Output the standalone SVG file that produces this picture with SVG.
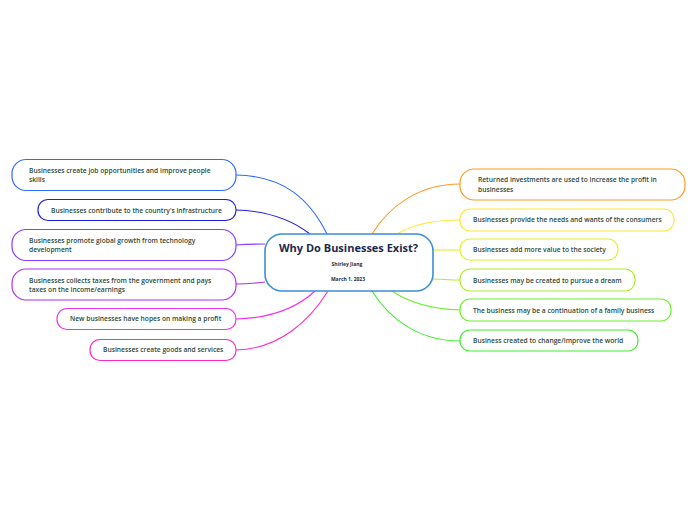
<svg xmlns="http://www.w3.org/2000/svg" width="696" height="520" viewBox="0 0 696 520">
<style>
.n{fill:#fff;stroke-width:1.2}
.t{font-family:"Open Sans","Noto Sans",sans-serif;font-weight:600;font-size:6.7px;fill:#2b4a3b}
.c{fill:none;stroke-width:1.1}
</style>
<rect width="696" height="520" fill="#fff"/>
<g id="connectors">
<path class="c" stroke="#2f6bff" d="M236,175 C285,176 310,200 327,234"/>
<path class="c" stroke="#2020e0" d="M236,210 C270,211 292,220 310,234"/>
<path class="c" stroke="#8a3cff" d="M236,245 C248,244 256,244 265,244"/>
<path class="c" stroke="#b030ee" d="M236,284 C248,284 256,283 265,282"/>
<path class="c" stroke="#ee33ee" d="M236,319 C275,318 300,305 315,291"/>
<path class="c" stroke="#ff2ac0" d="M236,350 C280,349 310,320 328,291"/>
<path class="c" stroke="#ff9a22" d="M460,184 C420,184 390,205 372,234"/>
<path class="c" stroke="#ffe633" d="M460,220 C430,220 410,226 397,234"/>
<path class="c" stroke="#e0f22a" d="M460,250 C450,250 440,250 433,250"/>
<path class="c" stroke="#aaf02a" d="M460,280 C450,280 440,279 433,279"/>
<path class="c" stroke="#6cf030" d="M460,310 C430,309 408,302 392,291"/>
<path class="c" stroke="#40ee30" d="M460,341 C420,341 390,320 372,291"/>
</g>
<g id="center">
<rect x="265" y="234" width="168" height="57" rx="17" fill="#fff" stroke="#3a8fd6" stroke-width="1.6"/>
<text x="348.5" y="252" text-anchor="middle" font-family="'Open Sans','Noto Sans',sans-serif" font-weight="700" font-size="11px" fill="#1b2a4e">Why Do Businesses Exist?</text>
<text x="347" y="266" text-anchor="middle" font-family="'Open Sans','Noto Sans',sans-serif" font-weight="700" font-size="5px" fill="#1b2a4e">Shirley Jiang</text>
<text x="348" y="281" text-anchor="middle" font-family="'Open Sans','Noto Sans',sans-serif" font-weight="700" font-size="5px" fill="#1b2a4e">March  1, 2023</text>
</g>
<g id="l1"><rect class="n" x="12" y="159.5" width="224" height="31" rx="14" stroke="#2f6bff"/><text class="t" x="29" y="173">Businesses create job opportunities and improve people</text><text class="t" x="29" y="182">skills</text></g>
<g id="l2"><rect class="n" x="38" y="199.5" width="198" height="21" rx="10" stroke="#2020e0"/><text class="t" x="51" y="213">Businesses contribute to the country's infrastructure</text></g>
<g id="l3"><rect class="n" x="12" y="229.5" width="224" height="31" rx="14" stroke="#8a3cff"/><text class="t" x="29" y="243">Businesses promote global growth from technology</text><text class="t" x="29" y="252">development</text></g>
<g id="l4"><rect class="n" x="12" y="269" width="224" height="31" rx="14" stroke="#b030ee"/><text class="t" x="29" y="283">Businesses collects taxes from the government and pays</text><text class="t" x="29" y="292">taxes on the income/earnings</text></g>
<g id="l5"><rect class="n" x="57" y="308.5" width="179" height="21" rx="10" stroke="#ee33ee"/><text class="t" x="70" y="321">New businesses have hopes on making a profit</text></g>
<g id="l6"><rect class="n" x="90" y="339.5" width="146" height="21" rx="10" stroke="#ff2ac0"/><text class="t" x="103" y="352">Businesses create goods and services</text></g>
<g id="r1"><rect class="n" x="460" y="169" width="225" height="31" rx="14" stroke="#ff9a22"/><text class="t" x="478" y="182">Returned investments are used to increase the profit in</text><text class="t" x="478" y="191.5">businesses</text></g>
<g id="r2"><rect class="n" x="460" y="209" width="214" height="22" rx="10" stroke="#ffe633"/><text class="t" x="473" y="222">Businesses provide the needs and wants of the consumers</text></g>
<g id="r3"><rect class="n" x="460" y="239" width="158" height="21" rx="10" stroke="#e0f22a"/><text class="t" x="473" y="251.5">Businesses add more value to the society</text></g>
<g id="r4"><rect class="n" x="460" y="269" width="175" height="22" rx="10" stroke="#aaf02a"/><text class="t" x="473" y="283">Businesses may be created to pursue a dream</text></g>
<g id="r5"><rect class="n" x="460" y="299" width="211" height="22" rx="10" stroke="#6cf030"/><text class="t" x="473" y="313">The business may be a continuation of a family business</text></g>
<g id="r6"><rect class="n" x="460" y="330" width="178" height="21" rx="10" stroke="#40ee30"/><text class="t" x="473" y="343">Business created to change/improve the world</text></g>
</svg>
